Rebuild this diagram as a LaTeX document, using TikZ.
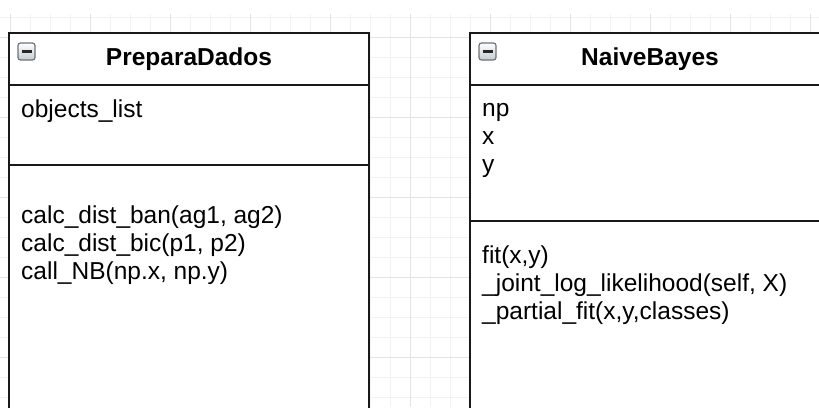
\documentclass[tikz,border=0pt]{standalone}
\usepackage{fontspec}
\setmainfont{Liberation Sans}

\definecolor{gridminor}{HTML}{F2F2F2}
\definecolor{gridmajor}{HTML}{E4E4E4}
\definecolor{iconborder}{HTML}{6E7378}
\definecolor{iconfill}{HTML}{C4CBD2}

\newcommand\classtextstyle{\fontsize{24.5}{28}\selectfont}
\newcommand\classwidth{360}
\newcommand\classframestyle{[line width=2pt, draw=black!90]}

\tikzset{
  classtitle/.style={anchor=base, inner sep=0pt, font=\classtextstyle\bfseries},
  classtext/.style={anchor=base west, inner sep=0pt, font=\classtextstyle},
}

% small collapse button in the top left corner of a class
\newcommand\classicon[1]{
  \draw[draw=iconborder, line width=1.2pt, rounded corners=2.5pt, top color=white, bottom color=iconfill]
    (#1 + 9, 43) rectangle ++ (17, 17) ;
  \draw[line width=3pt, draw=black!85] (#1 + 12.5, 51.5) -- ++ (10, 0) ;
}

% #1 left x, #2 node name, #3 class name, #4 y of the rule under the attributes
\newcommand\umlclass[4]{
  \fill[white] (#1, 33) rectangle (#1 + \classwidth, 420) ;
  \draw\classframestyle (#1, 420) -- (#1, 33) -- (#1 + \classwidth, 33) -- (#1 + \classwidth, 420) ;
  \draw\classframestyle (#1, 85) -- ++ (\classwidth, 0) ;
  \draw\classframestyle (#1, #4) -- ++ (\classwidth, 0) ;
  \classicon{#1}
  \node[classtitle] (#2) at (#1 + \classwidth * 0.5, 65) {#3} ;
}

\begin{document}
\begin{tikzpicture}[x=1pt, y=-1pt]
  \useasboundingbox (0, 0) rectangle (819, 407) ;
  \clip (0, 0) rectangle (819, 407) ;

  % background grid
  \begin{scope}
    \clip (0, 14) rectangle (819, 407) ;
    \foreach \gx in {10, 30, ..., 810}
      \draw[gridminor, line width=1pt] (\gx, 14) -- (\gx, 407) ;
    \foreach \gy in {17, 37, ..., 397}
      \draw[gridminor, line width=1pt] (0, \gy) -- (819, \gy) ;
    \foreach \gx in {10, 90, ..., 810}
      \draw[gridmajor, line width=1pt] (\gx, 14) -- (\gx, 407) ;
    \foreach \gy in {37, 117, ..., 357}
      \draw[gridmajor, line width=1pt] (0, \gy) -- (819, \gy) ;
  \end{scope}

  % PreparaDados
  \umlclass{9}{prepara}{PreparaDados}{165}
  \node[classtext] (preparaattr) at (21, 117) {objects\_list} ;
  \node[classtext] (preparaban) at (21, 223) {calc\_dist\_ban(ag1, ag2)} ;
  \node[classtext] (preparabic) at (21, 251) {calc\_dist\_bic(p1, p2)} ;
  \node[classtext] (preparanb) at (21, 279) {call\_NB(np.x, np.y)} ;

  % NaiveBayes
  \umlclass{470}{naive}{NaiveBayes}{221}
  \node[classtext] (naivenp) at (482, 116) {np} ;
  \node[classtext] (naivex) at (482, 144) {x} ;
  \node[classtext] (naivey) at (482, 172) {y} ;
  \node[classtext] (naivefit) at (482, 263) {fit(x,y)} ;
  \node[classtext] (naivejoint) at (482, 291) {\_joint\_log\_likelihood(self, X)} ;
  \node[classtext] (naivepartial) at (482, 319) {\_partial\_fit(x,y,classes)} ;
\end{tikzpicture}
\end{document}
